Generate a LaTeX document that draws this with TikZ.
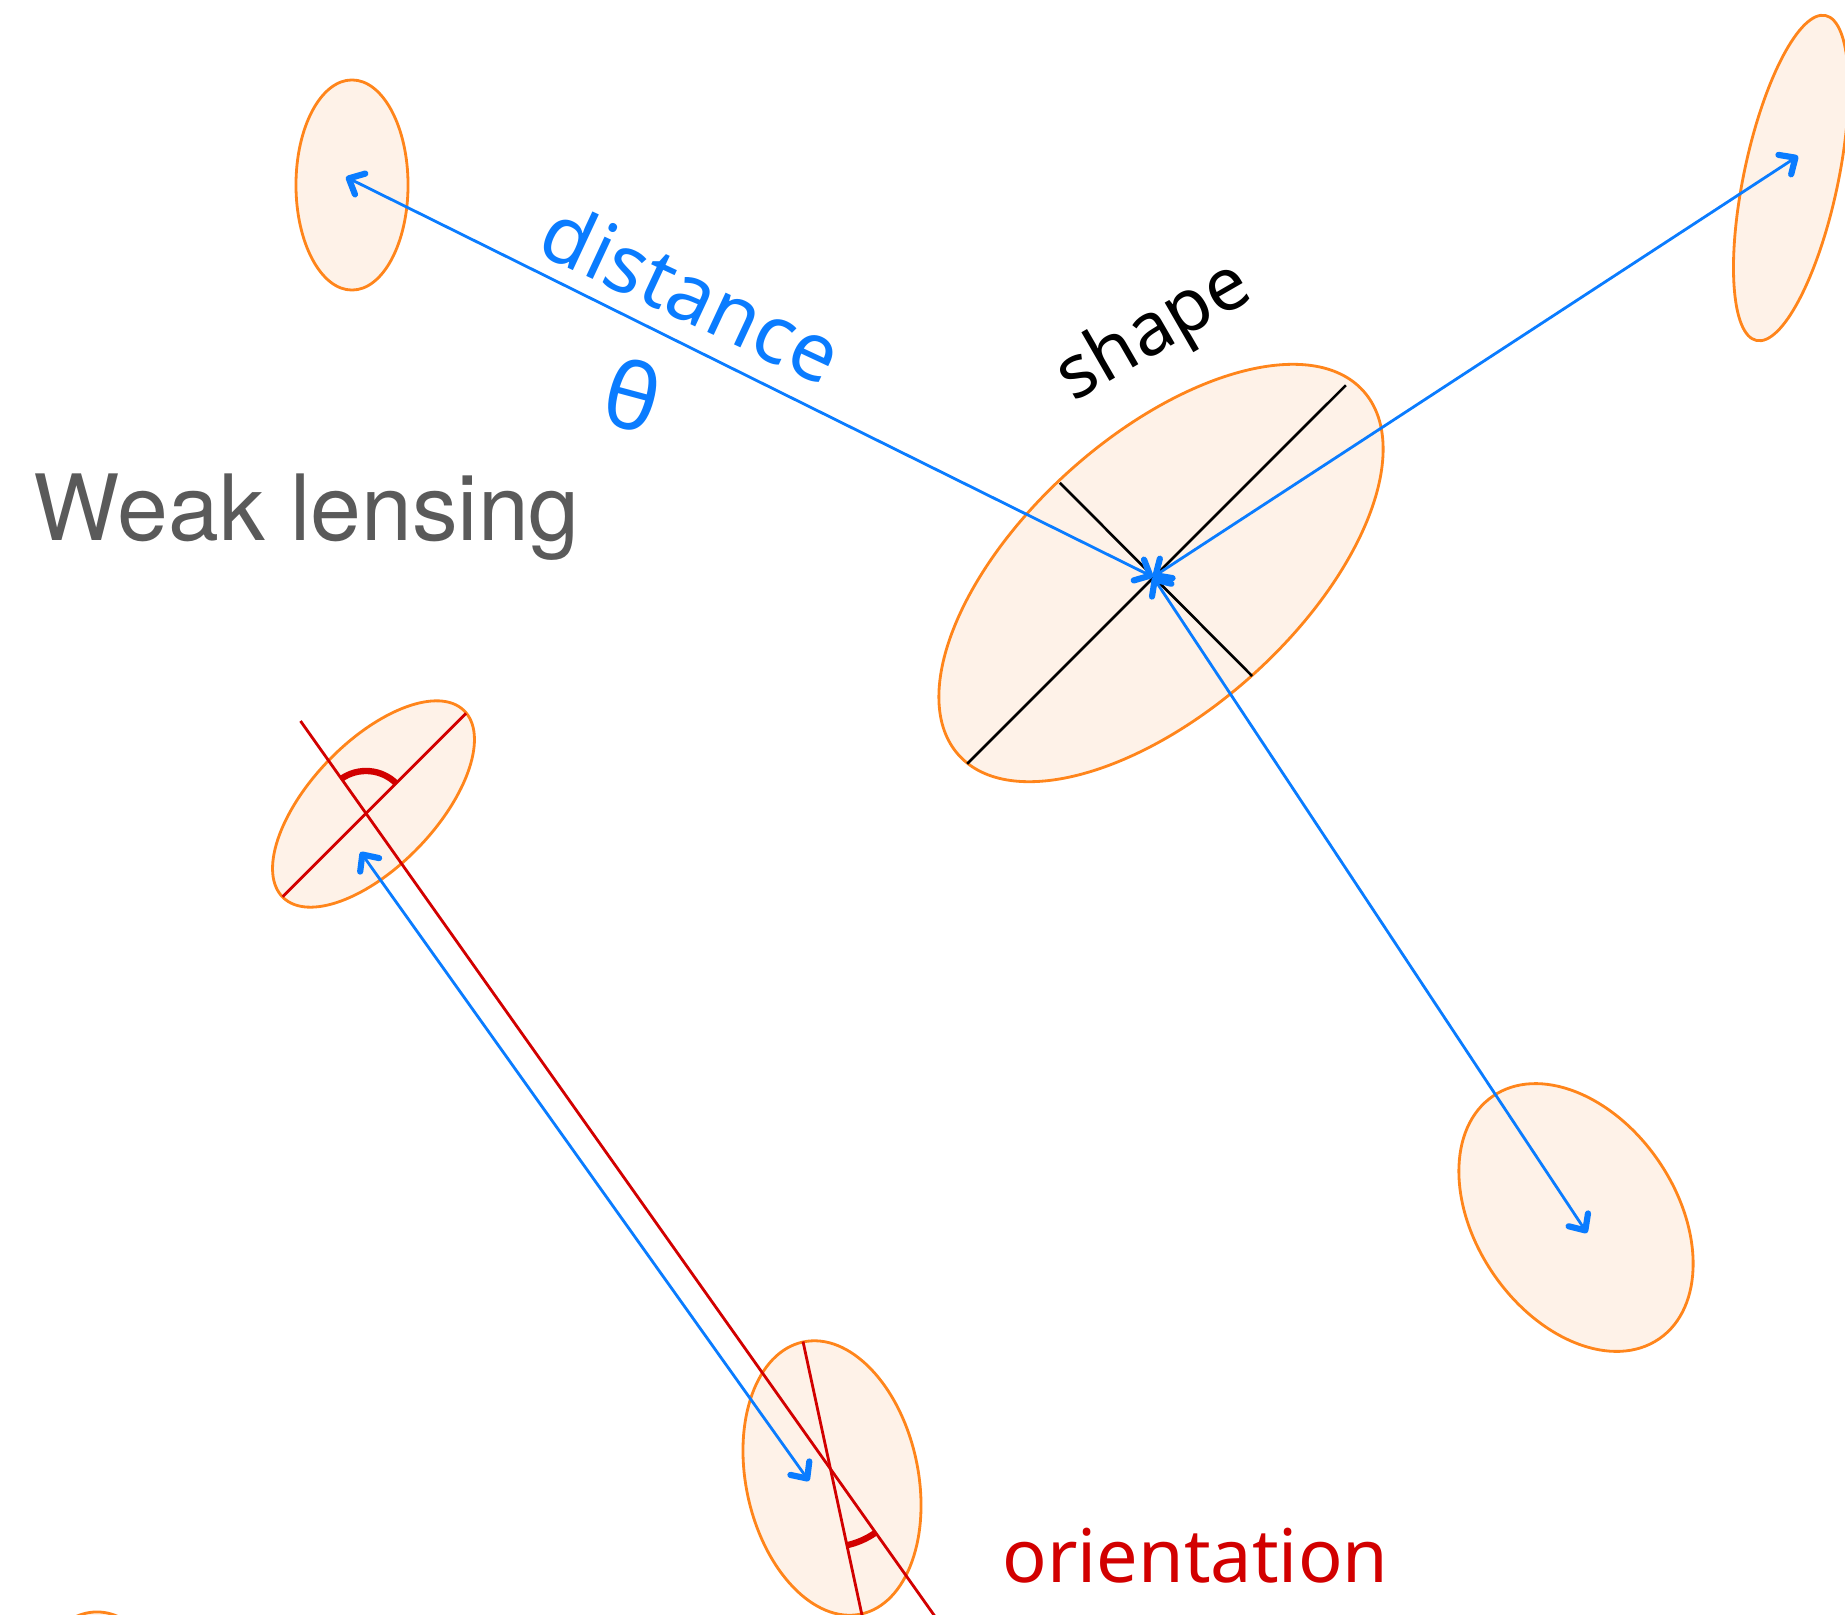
\documentclass[tikz,border=0pt]{standalone}
\usepackage{fontspec}
\usetikzlibrary{shapes.geometric,arrows.meta,calc}
\newfontfamily\heros{TeX Gyre Heros}
\newfontfamily\hand{Noto Sans}
\definecolor{blueA}{RGB}{10,124,255}
\definecolor{orangeA}{RGB}{255,133,27}
\definecolor{fillA}{RGB}{254,242,232}
\definecolor{redA}{RGB}{210,0,0}
\definecolor{grayA}{RGB}{90,90,90}
\tikzset{
  galaxy/.style={ellipse, draw=orangeA, fill=fillA, line width=0.8pt, inner sep=0pt, outer sep=0pt},
  blarrow/.style={draw=blueA, line width=0.8pt,
    arrows={Straight Barb[length=3.6pt,width=6.6pt,line width=0pt 2.2,round]-Straight Barb[length=3.6pt,width=6.6pt,line width=0pt 2.2,round]}},
  axisline/.style={draw=black, line width=0.75pt},
  redline/.style={draw=redA, line width=0.8pt},
  redarc/.style={draw=redA, line width=1.8pt},
  handlabel/.style={inner sep=0pt},
}
\begin{document}
\begin{tikzpicture}[x=0.01cm,y=0.01cm]
\useasboundingbox (0,0) rectangle (1845,-1615);
\fill[white] (0,0) rectangle (1845,-1615);
\clip (0,0) rectangle (1845,-1615);

% galaxies
\node[galaxy, minimum width=1.12cm, minimum height=2.10cm] (gA) at (352,-185) {};
\node[galaxy, minimum width=3.32cm, minimum height=0.94cm, rotate=78] (gB) at (1791,-178) {};
\node[galaxy, minimum width=5.44cm, minimum height=2.74cm, rotate=42] (gC) at (1161,-573) {};
\node[galaxy, minimum width=2.94cm, minimum height=2.00cm, rotate=-55.6] (gD) at (1576,-1217.5) {};
\node[galaxy, minimum width=2.60cm, minimum height=1.25cm, rotate=46] (gE) at (373.5,-804) {};
\node[galaxy, minimum width=2.78cm, minimum height=1.72cm, rotate=102] (gF) at (832,-1478) {};
\node[galaxy, minimum width=1.40cm, minimum height=2.00cm] (gG) at (97,-1712) {};

% coordinates
\coordinate (hub) at (1153,-577);
\coordinate (tA) at (346,-177);
\coordinate (tB) at (1798,-156);
\coordinate (tD) at (1587,-1233);
\coordinate (tE) at (360.5,-852);
\coordinate (tF) at (809,-1481);
\coordinate (c1) at (967.2,-763.8);
\coordinate (c2) at (1345.9,-385.2);
\coordinate (c3) at (1059.8,-482.7);
\coordinate (c4) at (1252.1,-676);
\coordinate (e1) at (282.7,-896.7);
\coordinate (e2) at (466,-713.3);
\coordinate (l1) at (300.5,-721);
\coordinate (l2) at (936.1,-1618);
\coordinate (f1) at (803,-1341.5);
\coordinate (f2) at (862.6,-1618);
\coordinate (xE) at (366,-814);
\coordinate (xF) at (830,-1468);

% shape axes
\draw[axisline] (c1) -- (c2);
\draw[axisline] (c3) -- (c4);

% orientation lines
\draw[redline] (e1) -- (e2);
\draw[redline] (l1) -- (l2);
\draw[redline] (f1) -- (f2);
\draw[redarc] ($(xE)+(45:0.43cm)$) arc[start angle=45, end angle=125.3, radius=0.43cm];
\draw[redarc] ($(xF)+(-77.8:0.79cm)$) arc[start angle=-77.8, end angle=-54.7, radius=0.79cm];

% distance arrows
\draw[blarrow] (hub) -- (tA);
\draw[blarrow] (hub) -- (tB);
\draw[blarrow] (hub) -- (tD);
\draw[blarrow] (tE) -- (tF);

% labels
\node[anchor=base west, inner sep=0pt, text=grayA, font=\heros\fontsize{26}{30}\selectfont] (title) at (33,-540) {Weak lensing};
\node[handlabel, text=blueA, rotate=-25, font=\hand\fontsize{23}{27}\selectfont] (dist) at (692,-292) {distance};
\node[handlabel, text=blueA, rotate=-15, font=\hand\fontsize{26}{30}\selectfont] (theta) at (633,-395) {θ};
\node[handlabel, text=black, rotate=30, font=\hand\fontsize{21}{25}\selectfont] (shp) at (1155,-333) {shape};
\node[handlabel, anchor=base west, text=redA, font=\hand\fontsize{21}{25}\selectfont] (orient) at (1002,-1582) {orientation};
\end{tikzpicture}
\end{document}
